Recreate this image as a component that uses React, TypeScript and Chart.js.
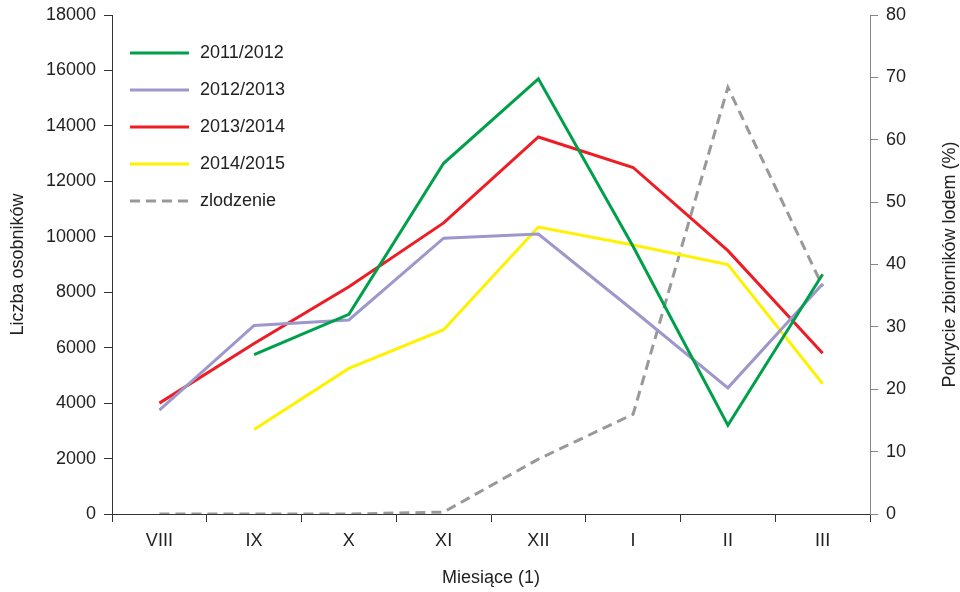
import React, { useEffect, useRef } from "react";
import { Chart, registerables } from "chart.js";

Chart.register(...registerables);

const months = ["VIII", "IX", "X", "XI", "XII", "I", "II", "III"];
const season2011 = [null, 5750, 7200, 12650, 15700, 9650, 3200, 8650];
const season2012 = [3750, 6800, 7000, 9950, 10100, 7350, 4550, 8300];
const season2013 = [4000, 6150, 8200, 10500, 13600, 12500, 9500, 5800];
const season2014 = [null, 3050, 5250, 6650, 10350, 9700, 9000, 4700];
const iceCover = [0, 0, 0, 0.3, 8.8, 16, 68.4, 36.5];

const FONT = '"Liberation Sans", Arial, sans-serif';
const TEXT = "#222";

const legendPlugin = {
  id: "customLegend",
  afterDraw(chart: any) {
    const ctx = chart.ctx;
    const x0 = chart.chartArea.left + 18;
    const y0 = chart.chartArea.top + 38;
    chart.data.datasets.forEach((ds: any, i: number) => {
      const y = y0 + i * 37;
      ctx.save();
      ctx.strokeStyle = ds.borderColor;
      ctx.lineWidth = 3;
      ctx.setLineDash(ds.borderDash || []);
      ctx.beginPath();
      ctx.moveTo(x0, y);
      ctx.lineTo(x0 + 59, y);
      ctx.stroke();
      ctx.setLineDash([]);
      ctx.fillStyle = TEXT;
      ctx.font = `18px ${FONT}`;
      ctx.textBaseline = "middle";
      ctx.textAlign = "left";
      ctx.fillText(ds.label, x0 + 70, y);
      ctx.restore();
    });
  },
};

const rightTitlePlugin = {
  id: "rightTitle",
  afterDraw(chart: any) {
    const ctx = chart.ctx;
    const { top, bottom } = chart.chartArea;
    ctx.save();
    ctx.translate(950, (top + bottom) / 2);
    ctx.rotate(-Math.PI / 2);
    ctx.fillStyle = TEXT;
    ctx.font = `18px ${FONT}`;
    ctx.textAlign = "center";
    ctx.textBaseline = "middle";
    ctx.fillText("Pokrycie zbiorników lodem (%)", 0, 0);
    ctx.restore();
  },
};

export default function App() {
  const ref = useRef<HTMLCanvasElement>(null);

  useEffect(() => {
    if (!ref.current) return;
    const chart = new Chart(ref.current, {
      type: "line",
      data: {
        labels: months,
        datasets: [
          { label: "2011/2012", data: season2011, borderColor: "#00a04b", backgroundColor: "#00a04b", borderWidth: 3, pointRadius: 0, yAxisID: "y" },
          { label: "2012/2013", data: season2012, borderColor: "#9d97cc", backgroundColor: "#9d97cc", borderWidth: 3, pointRadius: 0, yAxisID: "y" },
          { label: "2013/2014", data: season2013, borderColor: "#ee1c25", backgroundColor: "#ee1c25", borderWidth: 3, pointRadius: 0, yAxisID: "y" },
          { label: "2014/2015", data: season2014, borderColor: "#fff200", backgroundColor: "#fff200", borderWidth: 3, pointRadius: 0, yAxisID: "y" },
          { label: "zlodzenie", data: iceCover, borderColor: "#999999", backgroundColor: "#999999", borderWidth: 3, borderDash: [10, 6], pointRadius: 0, yAxisID: "y1" },
        ] as any,
      },
      options: {
        animation: false,
        responsive: false,
        layout: { padding: { top: 15, left: 0, right: 0, bottom: 0 } },
        plugins: { legend: { display: false }, tooltip: { enabled: false } },
        scales: {
          x: {
            type: "category",
            offset: true,
            grid: { offset: true, drawOnChartArea: false, drawTicks: true, tickLength: 8, color: "#333" },
            border: { display: true, color: "#333" },
            ticks: { color: TEXT, font: { size: 18, family: FONT }, padding: 8 },
            title: { display: true, text: "Miesiące (1)", color: TEXT, font: { size: 18, family: FONT }, padding: { top: 0, bottom: 3 } },
            afterFit: (s: any) => { s.height = 78; s.paddingLeft = 0; s.paddingRight = 0; },
          },
          y: {
            position: "left",
            min: 0,
            max: 18000,
            ticks: { stepSize: 2000, color: TEXT, font: { size: 18, family: FONT }, padding: 8, callback: (v: any) => String(v) },
            grid: { drawOnChartArea: false, drawTicks: true, tickLength: 8, color: "#333" },
            border: { display: true, color: "#333" },
            title: { display: true, text: "Liczba osobników", color: TEXT, font: { size: 18, family: FONT }, padding: { top: 7, bottom: 0 } },
            afterFit: (s: any) => { s.width = 112; s.paddingTop = 0; s.paddingBottom = 0; },
          },
          y1: {
            position: "right",
            min: 0,
            max: 80,
            ticks: { stepSize: 10, color: TEXT, font: { size: 18, family: FONT }, padding: 8, callback: (v: any) => String(v) },
            grid: { drawOnChartArea: false, drawTicks: true, tickLength: 8, color: "#888" },
            border: { display: true, color: "#888" },
            afterFit: (s: any) => { s.width = 90; s.paddingTop = 0; s.paddingBottom = 0; },
          },
        },
      } as any,
      plugins: [legendPlugin, rightTitlePlugin],
    });
    return () => chart.destroy();
  }, []);

  return (
    <div style={{ position: "fixed", left: 0, top: 0, width: 960, height: 592, background: "#fff" }}>
      <canvas ref={ref} width={960} height={592} style={{ display: "block" }} />
    </div>
  );
}
